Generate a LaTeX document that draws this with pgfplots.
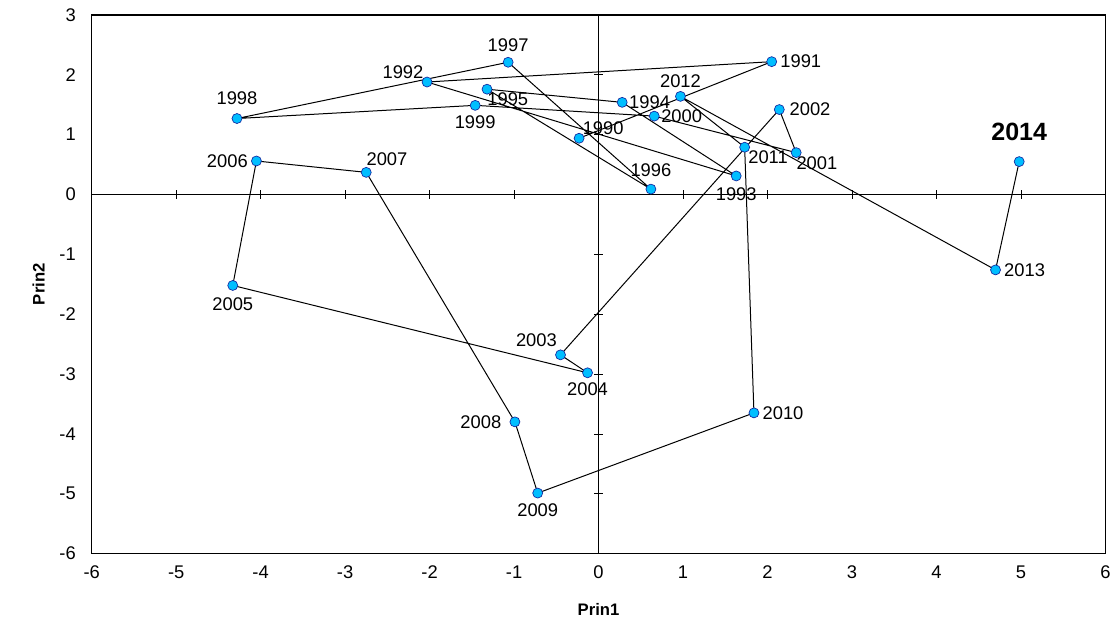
\documentclass[border=0pt]{standalone}
\usepackage{pgfplots}
\pgfplotsset{compat=1.18}
\usepackage{fontspec}
\setmainfont{Liberation Sans}
\definecolor{pt}{RGB}{0,190,255}
\definecolor{ptb}{RGB}{20,40,160}
\tikzset{lab/.style={font=\fontsize{11}{13}\selectfont, inner sep=2pt}}
\begin{document}
\begin{tikzpicture}
\pgfplotsset{every axis/.append style={scale only axis, width=608pt, height=323pt,
  xmin=-6,xmax=6,ymin=-6,ymax=3, xtick={-6,...,6}, ytick={-6,...,3}}}
\begin{axis}[axis lines=middle, xticklabels={}, yticklabels={}, major tick length=5pt,
  tick style={black,thin}, axis line style={-,thin}]
\end{axis}
\begin{axis}[major tick length=0pt, axis line style={line width=0.7pt},
  /pgf/number format/assume math mode=true,
  ticklabel style={font=\fontsize{11}{13}\selectfont},
  xticklabel style={yshift=-4pt}, yticklabel style={xshift=-6pt},
  xlabel={\textbf{Prin1}}, ylabel={\textbf{Prin2}},
  label style={font=\fontsize{10}{12}\selectfont},
  xlabel style={yshift=-8pt}, ylabel style={yshift=2pt},
  ]
\addplot[black, line width=0.6pt, mark=*, mark size=3pt, mark options={fill=pt, draw=ptb, thin}] coordinates {
(-0.23,0.94) (2.05,2.22) (-2.03,1.88) (1.63,0.31) (0.28,1.54) (-1.32,1.76) (0.62,0.09)
(-1.07,2.21) (-4.28,1.27) (-1.46,1.49) (0.66,1.31) (2.34,0.70) (2.14,1.42) (-0.45,-2.68)
(-0.13,-2.98) (-4.33,-1.52) (-4.05,0.56) (-2.75,0.37) (-0.99,-3.80) (-0.72,-4.99)
(1.84,-3.65) (1.73,0.79) (0.97,1.64) (4.70,-1.26) (4.98,0.55)};
\node[lab,above right] at (axis cs:-0.23,0.94) {1990};
\node[lab,right=3pt] at (axis cs:2.05,2.22) {1991};
\node[lab,above left] at (axis cs:-2.03,1.88) {1992};
\node[lab,below=5pt] at (axis cs:1.63,0.31) {1993};
\node[lab,right=2pt] at (axis cs:0.28,1.54) {1994};
\node[lab,below right,xshift=-2pt] at (axis cs:-1.32,1.76) {1995};
\node[lab,above=5pt] at (axis cs:0.62,0.09) {1996};
\node[lab,above=4pt] at (axis cs:-1.07,2.21) {1997};
\node[lab,above=6pt] at (axis cs:-4.28,1.27) {1998};
\node[lab,below=4pt] at (axis cs:-1.46,1.49) {1999};
\node[lab,right=2pt] at (axis cs:0.66,1.31) {2000};
\node[lab,below right,xshift=-2pt] at (axis cs:2.34,0.70) {2001};
\node[lab,right=4pt] at (axis cs:2.14,1.42) {2002};
\node[lab,above left,yshift=3pt] at (axis cs:-0.45,-2.68) {2003};
\node[lab,below=4pt] at (axis cs:-0.13,-2.98) {2004};
\node[lab,below=5pt] at (axis cs:-4.33,-1.52) {2005};
\node[lab,left=3pt] at (axis cs:-4.05,0.56) {2006};
\node[lab,above right,xshift=-2pt,yshift=2pt] at (axis cs:-2.75,0.37) {2007};
\node[lab,left=6pt] at (axis cs:-0.99,-3.80) {2008};
\node[lab,below=4pt] at (axis cs:-0.72,-4.99) {2009};
\node[lab,right=3pt] at (axis cs:1.84,-3.65) {2010};
\node[lab,below right] at (axis cs:1.73,0.79) {2011};
\node[lab,above=3pt] at (axis cs:0.97,1.64) {2012};
\node[lab,right=3pt] at (axis cs:4.70,-1.26) {2013};
\node[font=\fontsize{15}{17}\selectfont\bfseries,above=9pt] at (axis cs:4.98,0.55) {2014};
\end{axis}
\useasboundingbox (-55pt,-45pt) rectangle (614pt,332pt);
\end{tikzpicture}
\end{document}
